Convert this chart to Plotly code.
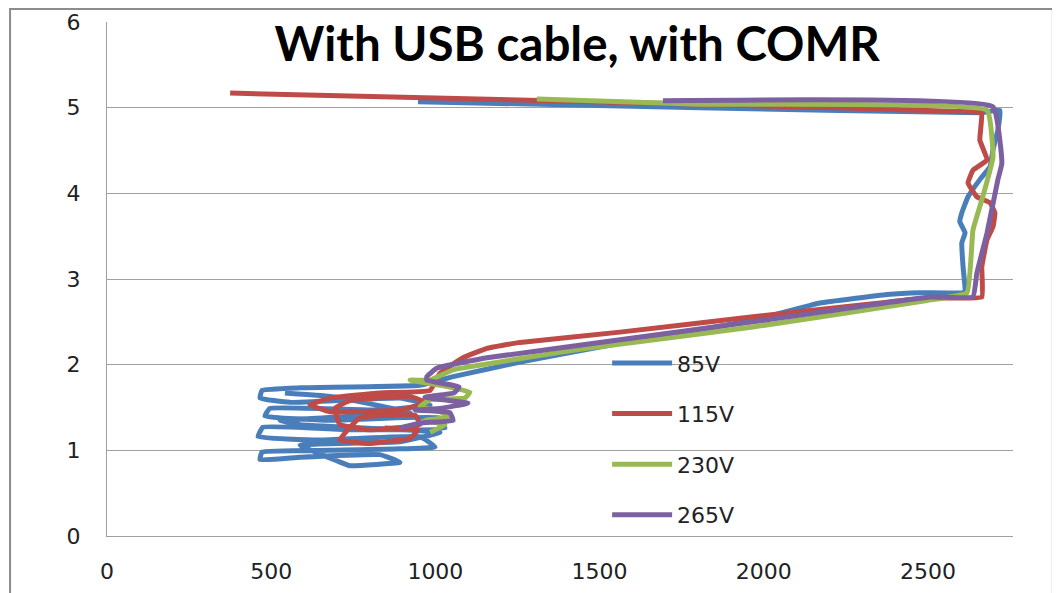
import plotly.graph_objects as go

title_text = "With USB cable, with COMR"
series_names = ["85V", "115V", "230V", "265V"]
series_colors = ["#4a7ebb", "#be4b48", "#98b954", "#7d60a0"]

x_85 = [947, 1806, 2658, 2719, 2713, 2698, 2689, 2658, 2622, 2603, 2597, 2613, 2603, 2607, 2613, 2607,
        2476, 2375, 2171, 1967, 1562, 1258, 1054, 953,
        588, 472, 466, 557, 892, 984, 831, 496, 481, 679, 1014, 1029, 740, 475, 460, 649, 953, 999,
        679, 472, 466, 588, 831, 892, 740, 679, 588, 892, 1014, 588, 527, 923, 679, 542]
y_85 = [5.07, 5.00, 4.94, 4.97, 4.74, 4.51, 4.31, 4.16, 3.96, 3.77, 3.67, 3.54, 3.42, 3.14, 2.87, 2.84,
        2.84, 2.82, 2.72, 2.52, 2.25, 2.03, 1.86, 1.76,
        1.73, 1.70, 1.61, 1.56, 1.61, 1.53, 1.47, 1.49, 1.40, 1.35, 1.38, 1.26, 1.24, 1.27, 1.16, 1.12, 1.16, 1.04,
        1.00, 0.98, 0.89, 0.92, 0.95, 0.86, 0.82, 0.91, 1.06, 1.10, 1.21, 1.30, 1.35, 1.44, 1.63, 1.67]

x_115 = [375, 1806, 2649, 2664, 2658, 2680, 2637, 2622, 2649, 2689, 2704, 2698, 2680, 2664, 2664,
         2515, 2375, 1967, 1562, 1258, 1157, 1084, 1014,
         984, 831, 679, 618, 679, 892, 969, 923, 740, 694, 709, 801, 953, 938, 770, 709, 801, 923, 947, 846]
y_115 = [5.17, 5.04, 4.95, 4.94, 4.62, 4.39, 4.27, 4.12, 3.96, 3.89, 3.77, 3.61, 3.46, 3.14, 2.79,
         2.78, 2.73, 2.56, 2.38, 2.26, 2.19, 2.08, 1.90,
         1.70, 1.67, 1.61, 1.53, 1.45, 1.47, 1.56, 1.63, 1.58, 1.49, 1.30, 1.24, 1.30, 1.41, 1.38, 1.12, 1.08, 1.14, 1.24, 1.26]

x_230 = [1309, 1806, 2680, 2698, 2667, 2637, 2619, 2497, 1967, 1462, 1054, 984,
         923, 1014, 1105, 1090, 984, 953, 1014, 1044, 968, 1029, 984]
y_230 = [5.10, 5.04, 4.97, 4.42, 3.96, 3.57, 2.84, 2.75, 2.44, 2.19, 1.94, 1.82,
         1.82, 1.76, 1.68, 1.61, 1.59, 1.51, 1.45, 1.39, 1.35, 1.30, 1.21]

x_265 = [1693, 2698, 2725, 2713, 2680, 2649, 2637, 2506, 1967, 1562, 1157, 1005, 974,
         974, 1072, 1057, 968, 1099, 1014, 938, 1044, 1054, 953, 892]
y_265 = [5.08, 5.01, 4.35, 4.16, 3.54, 3.07, 2.79, 2.79, 2.50, 2.29, 2.08, 1.96, 1.86,
         1.82, 1.74, 1.67, 1.62, 1.55, 1.49, 1.47, 1.44, 1.35, 1.32, 1.26]

x_ticks = [0, 500, 1000, 1500, 2000, 2500]
y_ticks = [0, 1, 2, 3, 4, 5, 6]

xs = [x_85, x_115, x_230, x_265]
ys = [y_85, y_115, y_230, y_265]

fig = go.Figure()
for name, col, xv, yv in zip(series_names, series_colors, xs, ys):
    fig.add_trace(go.Scatter(
        x=xv, y=yv, mode="lines", name=name, legendgroup=name,
        line=dict(color=col, width=5, shape="spline", smoothing=0.3),
    ))

font_main = "DejaVu Sans"
fig.update_layout(
    width=1052, height=585,
    margin=dict(l=99, r=47, t=14, b=57, autoexpand=False),
    paper_bgcolor="white", plot_bgcolor="white",
    title=dict(text="<b>" + title_text + "</b>", x=0.519, xref="paper", xanchor="center",
               y=0.938, yref="container", yanchor="middle",
               font=dict(family="Lato", size=47.5, color="black")),
    xaxis=dict(range=[0, 2759], tickvals=x_ticks, showgrid=False, zeroline=False,
               showline=True, linecolor="#a0a0a0", linewidth=1, ticks="", automargin=False,
               tickfont=dict(family=font_main, size=22, color="#222"),
               ticklabelstandoff=16),
    yaxis=dict(range=[0, 6], tickvals=y_ticks, showgrid=True, gridcolor="#a0a0a0", gridwidth=1,
               zeroline=False, showline=True, linecolor="#a0a0a0", linewidth=1, ticks="", automargin=False,
               tickfont=dict(family=font_main, size=22, color="#222"),
               ticklabelstandoff=21),
    legend=dict(x=0.552, xanchor="left", y=0.377, yanchor="top", bgcolor="rgba(0,0,0,0)",
                font=dict(family=font_main, size=22, color="#222"), itemwidth=60,
                tracegroupgap=19),
    showlegend=True,
)
fig.add_shape(type="rect", xref="paper", yref="paper", x0=-0.107, x1=1.044, y0=-0.2, y1=1.0255,
              line=dict(color="#8c8c8c", width=2), fillcolor="rgba(0,0,0,0)", layer="below")
fig.write_html("out.html")
